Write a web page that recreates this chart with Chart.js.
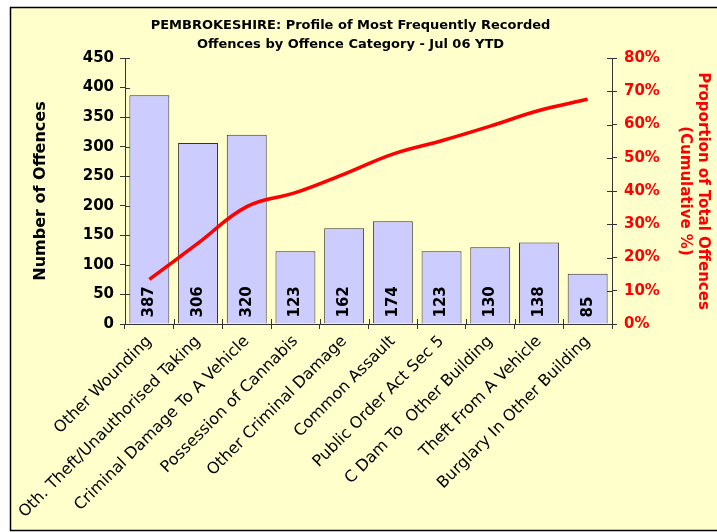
<!DOCTYPE html>
<html>
<head>
<meta charset="utf-8">
<title>Pembrokeshire offences profile</title>
<script src="https://cdn.jsdelivr.net/npm/chart.js@4/dist/chart.umd.min.js"></script>
<style>
    body { margin: 0; background: #fff; }
    #wrap { width: 717px; height: 532px; }
</style>
</head>
<body>
<div id="wrap"><canvas id="offenceChart" width="717" height="532"></canvas></div>
<script>
// Data
const categories = [
    'Other Wounding',
    'Oth. Theft/Unauthorised Taking',
    'Criminal Damage To A Vehicle',
    'Possession of Cannabis',
    'Other Criminal Damage',
    'Common Assault',
    'Public Order Act Sec 5',
    'C Dam To  Other Building',
    'Theft From A Vehicle',
    'Burglary In Other Building'
];
const offenceCounts = [387, 306, 320, 123, 162, 174, 123, 130, 138, 85];
const cumulativePct = [13.4, 24.3, 35.3, 39.5, 45.1, 51.1, 55.1, 59.5, 64.2, 67.6];
const countTicks = [0, 50, 100, 150, 200, 250, 300, 350, 400, 450];
const pctTicks = [0, 10, 20, 30, 40, 50, 60, 70, 80];

const FONT = 'DejaVu Sans, Verdana, sans-serif';

// Yellow chart frame, bar value labels and the inner half of the axis ticks
const framePlugin = {
    id: 'frame',
    beforeDraw(chart) {
        const ctx = chart.ctx;
        ctx.save();
        ctx.fillStyle = '#ffffff';
        ctx.fillRect(0, 0, chart.width, chart.height);
        ctx.fillStyle = '#FFFFCC';
        ctx.fillRect(10, 7, chart.width, 524);
        ctx.strokeStyle = '#000';
        ctx.lineWidth = 1.5;
        ctx.strokeRect(10.5, 7.5, chart.width + 5, 523);
        ctx.restore();
    },
    afterDatasetsDraw(chart) {
        const ctx = chart.ctx;
        const meta = chart.getDatasetMeta(1);  // the bar dataset
        ctx.save();
        ctx.fillStyle = '#000';
        ctx.font = 'bold 15px ' + FONT;
        ctx.textAlign = 'left';
        ctx.textBaseline = 'middle';
        meta.data.forEach((bar, i) => {
            ctx.save();
            ctx.translate(bar.x, bar.base - 6);
            ctx.rotate(-Math.PI / 2);
            ctx.fillText(String(offenceCounts[i]), 0, 0);
            ctx.restore();
        });
        ctx.restore();
    },
    afterDraw(chart) {
        const ctx = chart.ctx;
        const area = chart.chartArea;
        const y = chart.scales.y;
        const y1 = chart.scales.y1;
        const x = chart.scales.x;
        ctx.save();
        ctx.strokeStyle = '#333';
        ctx.lineWidth = 1;
        ctx.beginPath();
        y.ticks.forEach(t => {
            const py = Math.round(y.getPixelForValue(t.value)) + 0.5;
            ctx.moveTo(area.left, py);
            ctx.lineTo(area.left + 5, py);
        });
        y1.ticks.forEach(t => {
            const py = Math.round(y1.getPixelForValue(t.value)) + 0.5;
            ctx.moveTo(area.right - 5, py);
            ctx.lineTo(area.right, py);
        });
        for (let i = 1; i < categories.length; i++) {
            const px = Math.round((x.getPixelForValue(i - 1) + x.getPixelForValue(i)) / 2) + 0.5;
            ctx.moveTo(px, area.bottom);
            ctx.lineTo(px, area.bottom - 5);
        }
        ctx.stroke();
        ctx.restore();
    }
};

const ctx = document.getElementById('offenceChart').getContext('2d');
const offenceChart = new Chart(ctx, {
    type: 'bar',
    data: {
        labels: categories,
        datasets: [
            {
                type: 'line',
                data: cumulativePct,
                yAxisID: 'y1',
                borderColor: '#FF0000',
                borderWidth: 3.5,
                pointRadius: 0,
                tension: 0.4,
                fill: false,
                order: 0
            },
            {
                type: 'bar',
                data: offenceCounts,
                yAxisID: 'y',
                backgroundColor: '#CCCCFF',
                borderColor: '#333333',
                borderWidth: 1,
                categoryPercentage: 1.0,
                barPercentage: 0.82,
                order: 1
            }
        ]
    },
    options: {
        responsive: false,
        animation: false,
        devicePixelRatio: 1,
        layout: {
            padding: { top: 16, left: 0, right: 16, bottom: 0 }
        },
        plugins: {
            legend: { display: false },
            tooltip: { enabled: false },
            title: {
                display: true,
                text: ['PEMBROKESHIRE: Profile of Most Frequently Recorded',
                       'Offences by Offence Category - Jul 06 YTD'],
                color: '#000',
                font: { family: FONT, size: 13, weight: 'bold', lineHeight: '19px' },
                padding: { top: 0, bottom: 4 }
            }
        },
        scales: {
            x: {
                grid: { display: true, drawOnChartArea: false, tickLength: 5, color: '#333', offset: true },
                border: { display: true, color: '#333', width: 1 },
                ticks: {
                    color: '#000',
                    font: { family: FONT, size: 16 },
                    minRotation: 45,
                    maxRotation: 45,
                    autoSkip: false,
                    padding: 3
                },
                afterFit(scale) {
                    scale.height = 208;
                    scale.paddingLeft = 0;
                    scale.paddingRight = 0;
                }
            },
            y: {
                position: 'left',
                min: countTicks[0],
                max: countTicks[countTicks.length - 1],
                afterBuildTicks(scale) {
                    scale.ticks = countTicks.map(v => ({ value: v }));
                },
                grid: { display: true, drawOnChartArea: false, tickLength: 5, color: '#333' },
                border: { display: true, color: '#333', width: 1 },
                ticks: {
                    color: '#000',
                    font: { family: FONT, size: 15, weight: 'bold' },
                    padding: 6
                },
                title: {
                    display: true,
                    text: 'Number of Offences',
                    color: '#000',
                    font: { family: FONT, size: 16, weight: 'bold', lineHeight: '19px' },
                    padding: { top: 31, bottom: 0 }
                },
                afterFit(scale) {
                    scale.width = 125;
                }
            },
            y1: {
                position: 'right',
                min: pctTicks[0],
                max: pctTicks[pctTicks.length - 1],
                afterBuildTicks(scale) {
                    scale.ticks = pctTicks.map(v => ({ value: v }));
                },
                grid: { display: true, drawOnChartArea: false, tickLength: 5, color: '#333' },
                border: { display: true, color: '#333', width: 1 },
                ticks: {
                    color: '#FF0000',
                    font: { family: FONT, size: 15, weight: 'bold' },
                    padding: 7,
                    callback: v => v + '%'
                },
                title: {
                    display: true,
                    text: ['Proportion of Total Offences', '(Cumulative %)'],
                    color: '#FF0000',
                    font: { family: FONT, size: 15, weight: 'bold', lineHeight: '18px' },
                    padding: { top: -11, bottom: 0 }
                },
                afterFit(scale) {
                    scale.width = 89;
                }
            }
        }
    },
    plugins: [framePlugin]
});
</script>
</body>
</html>
